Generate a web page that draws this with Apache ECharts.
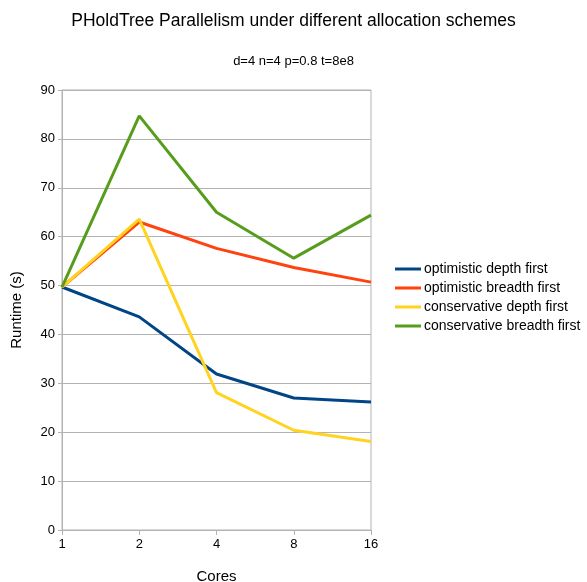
<!DOCTYPE html>
<html><head><meta charset="utf-8">
<script src="https://cdn.jsdelivr.net/npm/echarts@6/dist/echarts.min.js"></script>
<style>html,body{margin:0;padding:0;background:#fff}#c{width:587px;height:582px}</style>
</head><body><div id="c"></div>
<script>
const categories = ['1','2','4','8','16'];
const optimisticDepth = [49.7, 43.6, 31.9, 27.0, 26.2];
const optimisticBreadth = [49.7, 63.0, 57.6, 53.7, 50.7];
const conservativeDepth = [49.7, 63.6, 28.1, 20.4, 18.1];
const conservativeBreadth = [49.7, 84.7, 65.0, 55.6, 64.4];
const seriesNames = ['optimistic depth first','optimistic breadth first','conservative depth first','conservative breadth first'];
const colors = ['#004586','#ff420e','#ffd320','#579d1c'];
const font = 'Liberation Sans, Arial, sans-serif';
const chart = echarts.init(document.getElementById('c'));
const datas = [optimisticDepth, optimisticBreadth, conservativeDepth, conservativeBreadth];
chart.setOption({
  animation:false,
  title:[
    {text:'PHoldTree Parallelism under different allocation schemes', left:'center', top:7, textStyle:{fontFamily:font,fontSize:17.5,fontWeight:'normal',color:'#000'}},
    {text:'d=4 n=4 p=0.8 t=8e8', left:'center', top:50, textStyle:{fontFamily:font,fontSize:13,fontWeight:'normal',color:'#000'}}
  ],
  legend:{orient:'vertical', left:390, top:257, itemGap:5, itemWidth:26, itemHeight:14,
    textStyle:{fontFamily:font,fontSize:14,color:'#000',padding:[0,0,0,-2]},
    data:seriesNames.map((n,i)=>({name:n, icon:'path://M0,0 L26,0 L26,3 L0,3 Z'}))},
  grid:{left:62, right:216, top:90, bottom:52, show:true, borderColor:'#b3b3b3', borderWidth:1, containLabel:false, outerBoundsMode:'none'},
  xAxis:{type:'category', data:categories, boundaryGap:false, name:'Cores', nameLocation:'middle', nameGap:39,
    nameTextStyle:{fontFamily:font,fontSize:15,color:'#000'},
    axisLine:{lineStyle:{color:'#b3b3b3',width:1}}, axisTick:{show:true,length:5,lineStyle:{color:'#b3b3b3'}},
    axisLabel:{fontFamily:font,fontSize:13,color:'#000',margin:8},
    splitLine:{show:false}},
  yAxis:{type:'value', min:0, max:90, interval:10, name:'Runtime (s)', nameLocation:'middle', nameGap:38, nameRotate:90,
    nameTextStyle:{fontFamily:font,fontSize:15,color:'#000'},
    axisLine:{show:true,lineStyle:{color:'#b3b3b3'}}, axisTick:{show:true,length:4,lineStyle:{color:'#b3b3b3'}},
    axisLabel:{fontFamily:font,fontSize:13,color:'#000',margin:7},
    splitLine:{lineStyle:{color:'#b3b3b3'}}},
  series: datas.map((d,i)=>({name:seriesNames[i], type:'line', data:d, symbol:'none', color:colors[i], lineStyle:{width:3,color:colors[i]}}))
});
</script></body></html>
